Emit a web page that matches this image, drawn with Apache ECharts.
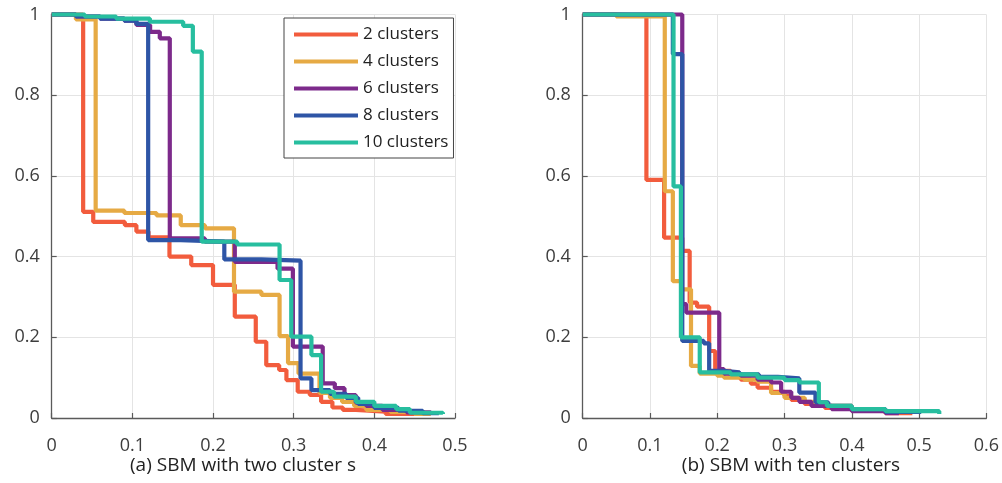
<!DOCTYPE html>
<html>
<head>
<meta charset="utf-8">
<script src="https://cdn.jsdelivr.net/npm/echarts@6/dist/echarts.min.js"></script>
<style>
html,body{margin:0;padding:0;background:#fff;}
#chart{width:1002px;height:483px;}
</style>
</head>
<body>
<div id="chart"></div>
<script>
// ---- Data ----
const seriesNames = ['2 clusters', '4 clusters', '6 clusters', '8 clusters', '10 clusters'];
const xTicksLeft = [0, 0.1, 0.2, 0.3, 0.4, 0.5];
const xTicksRight = [0, 0.1, 0.2, 0.3, 0.4, 0.5, 0.6];
const yTicks = [0, 0.2, 0.4, 0.6, 0.8, 1];
const captionLeft = '(a) SBM with two cluster s';
const captionRight = '(b) SBM with ten clusters';

// Left panel: SBM with two clusters (step breakpoints: x where level starts, level)
const leftX2 = [0, 0.039, 0.0515, 0.0907, 0.105, 0.12, 0.146, 0.173, 0.2, 0.227, 0.253, 0.266, 0.282, 0.291, 0.305, 0.32, 0.334, 0.348, 0.361, 0.377, 0.414, 0.45];
const leftY2 = [1, 0.511, 0.486, 0.478, 0.462, 0.448, 0.40, 0.379, 0.33, 0.251, 0.189, 0.131, 0.119, 0.094, 0.065, 0.057, 0.04, 0.026, 0.02, 0.016, 0.01, 0.01];

const leftX4 = [0, 0.03, 0.0545, 0.09, 0.13, 0.16, 0.19, 0.226, 0.26, 0.2825, 0.293, 0.306, 0.332, 0.345, 0.36, 0.375, 0.39, 0.42, 0.45, 0.47];
const leftY4 = [1, 0.988, 0.514, 0.508, 0.502, 0.478, 0.47, 0.313, 0.305, 0.203, 0.136, 0.11, 0.062, 0.05, 0.04, 0.03, 0.02, 0.015, 0.01, 0.01];

const leftX6 = [0, 0.03, 0.06, 0.09, 0.105, 0.122, 0.134, 0.1464, 0.19, 0.227, 0.28, 0.299, 0.336, 0.351, 0.363, 0.377, 0.39, 0.41, 0.44, 0.47];
const leftY6 = [1, 0.995, 0.99, 0.985, 0.974, 0.957, 0.941, 0.445, 0.437, 0.387, 0.37, 0.177, 0.086, 0.074, 0.057, 0.038, 0.03, 0.02, 0.014, 0.01];

const leftX8 = [0, 0.03, 0.06, 0.09, 0.105, 0.1196, 0.16, 0.214, 0.26, 0.3085, 0.322, 0.345, 0.365, 0.38, 0.4, 0.43, 0.46, 0.48];
const leftY8 = [1, 0.995, 0.99, 0.985, 0.977, 0.441, 0.437, 0.393, 0.39, 0.098, 0.069, 0.06, 0.05, 0.035, 0.025, 0.018, 0.012, 0.01];

const leftX10 = [0, 0.041, 0.08, 0.1217, 0.163, 0.175, 0.186, 0.23, 0.2825, 0.297, 0.322, 0.334, 0.35, 0.377, 0.4, 0.427, 0.444, 0.485];
const leftY10 = [1, 0.995, 0.99, 0.982, 0.972, 0.908, 0.437, 0.43, 0.342, 0.2015, 0.156, 0.065, 0.053, 0.04, 0.03, 0.022, 0.013, 0.01];

// Right panel: SBM with ten clusters
const rightX2 = [0, 0.05, 0.0947, 0.121, 0.148, 0.159, 0.17, 0.188, 0.197, 0.22, 0.235, 0.25, 0.26, 0.28, 0.3, 0.31, 0.33, 0.36, 0.4, 0.45, 0.49];
const rightY2 = [1, 0.997, 0.59, 0.447, 0.414, 0.286, 0.276, 0.166, 0.117, 0.105, 0.095, 0.085, 0.075, 0.065, 0.055, 0.045, 0.035, 0.025, 0.018, 0.012, 0.01];

const rightX4 = [0, 0.05, 0.122, 0.134, 0.147, 0.161, 0.174, 0.2, 0.21, 0.24, 0.26, 0.28, 0.3, 0.33, 0.35, 0.4, 0.45, 0.5];
const rightY4 = [1, 0.995, 0.562, 0.339, 0.319, 0.129, 0.11, 0.105, 0.1, 0.095, 0.09, 0.062, 0.05, 0.04, 0.03, 0.02, 0.015, 0.01];

const rightX6 = [0, 0.148, 0.154, 0.203, 0.21, 0.235, 0.26, 0.28, 0.295, 0.31, 0.322, 0.34, 0.37, 0.4, 0.45, 0.47];
const rightY6 = [1, 0.282, 0.261, 0.121, 0.11, 0.105, 0.095, 0.088, 0.065, 0.05, 0.04, 0.03, 0.022, 0.017, 0.012, 0.01];

const rightX8 = [0, 0.134, 0.148, 0.18, 0.188, 0.21, 0.233, 0.262, 0.29, 0.322, 0.346, 0.365, 0.4, 0.45, 0.5];
const rightY8 = [1, 0.902, 0.191, 0.185, 0.117, 0.113, 0.108, 0.102, 0.098, 0.063, 0.039, 0.03, 0.022, 0.015, 0.01];

const rightX10 = [0, 0.135, 0.146, 0.174, 0.22, 0.26, 0.3, 0.322, 0.351, 0.363, 0.4, 0.45, 0.53];
const rightY10 = [1, 0.574, 0.2, 0.113, 0.108, 0.1, 0.094, 0.088, 0.039, 0.03, 0.022, 0.017, 0.01];

// ---- Styling ----
const colors = ['#F25C3D', '#E6AA44', '#7D2A8B', '#2E55A6', '#27BE9F'];
const FONT = '"Open Sans", "Noto Sans", sans-serif';
const leftXs = [leftX2, leftX4, leftX6, leftX8, leftX10];
const leftYs = [leftY2, leftY4, leftY6, leftY8, leftY10];
const rightXs = [rightX2, rightX4, rightX6, rightX8, rightX10];
const rightYs = [rightY2, rightY4, rightY6, rightY8, rightY10];

function pairs(xs, ys) { return xs.map((x, i) => [x, ys[i]]); }
function fmt(v) { return String(+v.toFixed(1)); }

function xAxis(gridIndex, max) {
  return {
    type: 'value', gridIndex, min: 0, max, interval: 0.1,
    axisLine: { show: true, lineStyle: { color: '#5a5a5a', width: 1.3 } },
    axisTick: { show: true, inside: true, length: 5, lineStyle: { color: '#5a5a5a', width: 1.2 } },
    axisLabel: { color: '#3d3d3d', fontSize: 18, fontFamily: FONT, margin: 19, formatter: fmt },
    splitLine: { show: true, lineStyle: { color: '#e4e4e4', width: 1 } }
  };
}
function yAxis(gridIndex) {
  return {
    type: 'value', gridIndex, min: 0, max: 1, interval: 0.2,
    axisLine: { show: true, lineStyle: { color: '#5a5a5a', width: 1.3 } },
    axisTick: { show: true, inside: true, length: 5, lineStyle: { color: '#5a5a5a', width: 1.2 } },
    axisLabel: { color: '#3d3d3d', fontSize: 18, fontFamily: FONT, margin: 12, formatter: fmt },
    splitLine: { show: true, lineStyle: { color: '#e4e4e4', width: 1 } }
  };
}

const series = [];
seriesNames.forEach((name, i) => {
  series.push({
    name, type: 'line', step: 'end', xAxisIndex: 0, yAxisIndex: 0,
    data: pairs(leftXs[i], leftYs[i]), showSymbol: false, symbol: 'none', clip: false,
    lineStyle: { color: colors[i], width: 4.2 }, itemStyle: { color: colors[i] }, z: 2 + i
  });
});
seriesNames.forEach((name, i) => {
  series.push({
    name, type: 'line', step: 'end', xAxisIndex: 1, yAxisIndex: 1,
    data: pairs(rightXs[i], rightYs[i]), showSymbol: false, symbol: 'none', clip: false,
    lineStyle: { color: colors[i], width: 4.2 }, itemStyle: { color: colors[i] }, z: 2 + i
  });
});

const chart = echarts.init(document.getElementById('chart'), null, { renderer: 'canvas' });
chart.setOption({
  animation: false,
  backgroundColor: '#fff',
  color: colors,
  grid: [
    { left: 51.7, right: 547, top: 14.5, bottom: 65 },
    { left: 582.7, right: 14, top: 14.5, bottom: 65 }
  ],
  xAxis: [xAxis(0, 0.5), xAxis(1, 0.6)],
  yAxis: [yAxis(0), yAxis(1)],
  title: [
    { text: captionLeft, left: 238, top: 451, textAlign: 'center',
      textStyle: { fontSize: 19, fontWeight: 'normal', color: '#222', fontFamily: FONT } },
    { text: captionRight, left: 786, top: 451, textAlign: 'center',
      textStyle: { fontSize: 19, fontWeight: 'normal', color: '#222', fontFamily: FONT } }
  ],
  legend: {
    orient: 'vertical', left: 284, top: 18,
    data: seriesNames,
    icon: 'rect', itemWidth: 64, itemHeight: 4, itemGap: 10,
    padding: [8, 5, 7, 10],
    backgroundColor: '#fff', borderColor: '#444', borderWidth: 1,
    textStyle: { fontSize: 17, color: '#222', fontFamily: FONT, lineHeight: 17 },
    selectedMode: false
  },
  series
});
</script>
</body>
</html>
